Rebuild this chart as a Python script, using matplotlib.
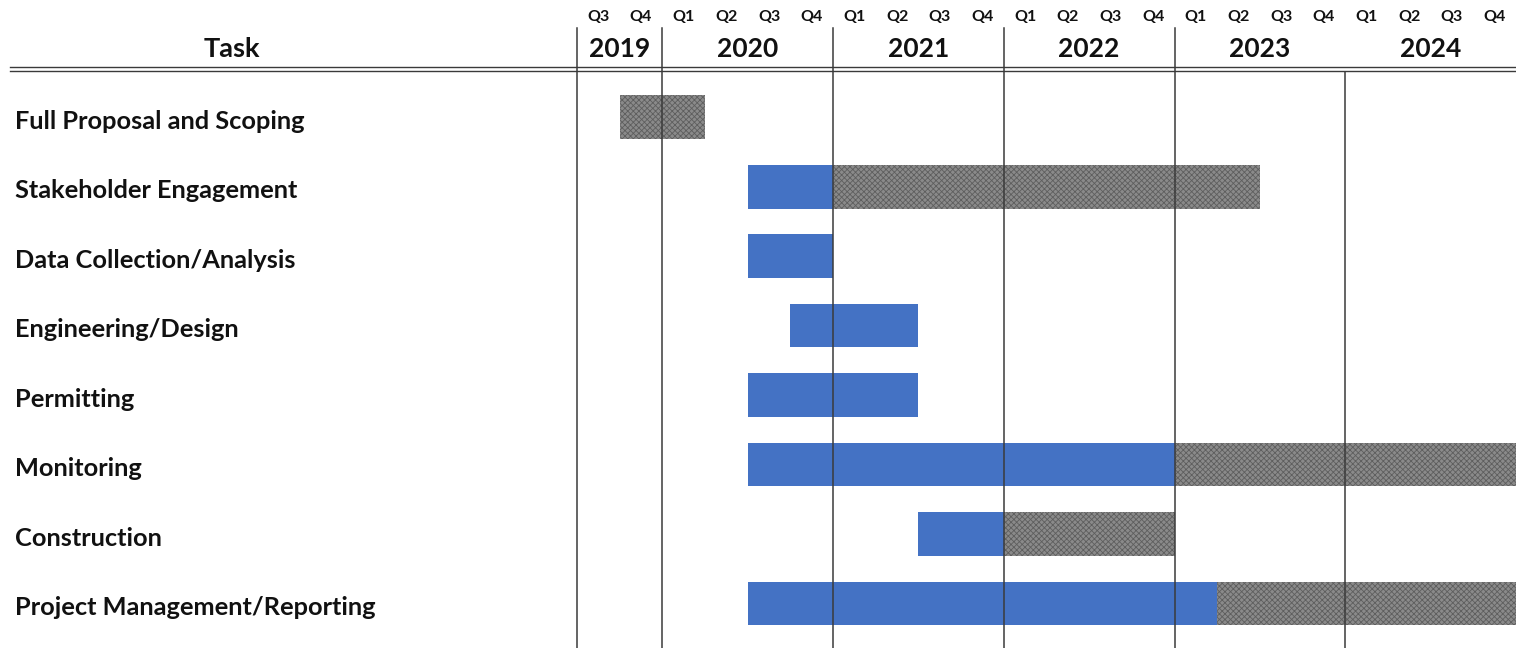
import matplotlib.pyplot as plt
import matplotlib.transforms as mtransforms

plt.rcParams['font.family'] = ['Lato', 'DejaVu Sans']
plt.rcParams['hatch.linewidth'] = 0.6

# quarters counted from Q3 2019 (= 0)
tasks = ["Full Proposal and Scoping", "Stakeholder Engagement", "Data Collection/Analysis",
         "Engineering/Design", "Permitting", "Monitoring", "Construction",
         "Project Management/Reporting"]
blue_start = [None, 4, 4, 5, 4, 4, 8, 4]
blue_end = [None, 6, 6, 8, 8, 14, 10, 15]
gray_start = [1, 6, None, None, None, 14, 10, 15]
gray_end = [3, 16, None, None, None, 22, 14, 22]

years = ["2019", "2020", "2021", "2022", "2023", "2024"]
year_start = [0, 2, 6, 10, 14, 18]
year_end = [2, 6, 10, 14, 18, 22]
quarter_labels = ["Q3", "Q4"] + ["Q1", "Q2", "Q3", "Q4"] * 5

W, H = 1516, 648
fig = plt.figure(figsize=(W / 100, H / 100), dpi=100)
ax = fig.add_axes([577 / W, 0, (W - 577) / W, 1 - 72 / H])
ax.set_xlim(0, 22)
ax.set_ylim(7.64, -0.65)
ax.axis('off')

blue = '#4472C4'
line_c = '#3a3a3a'
bar_h = 0.63

for i, t in enumerate(tasks):
    if blue_start[i] is not None:
        ax.barh(i, blue_end[i] - blue_start[i], left=blue_start[i], height=bar_h,
                color=blue, edgecolor='none', zorder=2)
    if gray_start[i] is not None:
        ax.barh(i, gray_end[i] - gray_start[i], left=gray_start[i], height=bar_h,
                color='#8a8a8a', edgecolor='#5e5e5e', hatch='xxxxxx', linewidth=0, zorder=2)

# row labels
trans_row = mtransforms.blended_transform_factory(fig.transFigure, ax.transData)
for i, t in enumerate(tasks):
    ax.text(15 / W, i + 0.06, t, transform=trans_row, ha='left', va='center',
            fontsize=18.3, fontweight='bold', color='#111111')

# header texts
trans_hdr = mtransforms.blended_transform_factory(ax.transData, fig.transFigure)
for q, lab in enumerate(quarter_labels):
    ax.text(q + 0.5, 1 - 17 / H, lab, transform=trans_hdr, ha='center', va='center',
            fontsize=11.5, fontweight='bold', color='#111111', clip_on=False)
for y, s, e in zip(years, year_start, year_end):
    ax.text((s + e) / 2, 1 - 49 / H, y, transform=trans_hdr, ha='center', va='center',
            fontsize=19, fontweight='bold', color='#111111', clip_on=False)
fig.text(232 / W, 1 - 49 / H, "Task", ha='center', va='center',
         fontsize=19.5, fontweight='bold', color='#111111')

# vertical grid lines at year boundaries
for x in year_start:
    top = 1 - 28 / H if x != 18 else 1 - 72 / H
    ax.plot([x, x], [0, top], transform=trans_hdr, color=line_c, lw=1.1,
            clip_on=False, zorder=3)

# double rule under header
for yy in (67, 71):
    fig.add_artist(plt.Line2D([10 / W, 1], [1 - yy / H, 1 - yy / H], color=line_c, lw=1.0))

fig.savefig('out.png', dpi=100, facecolor='white')
